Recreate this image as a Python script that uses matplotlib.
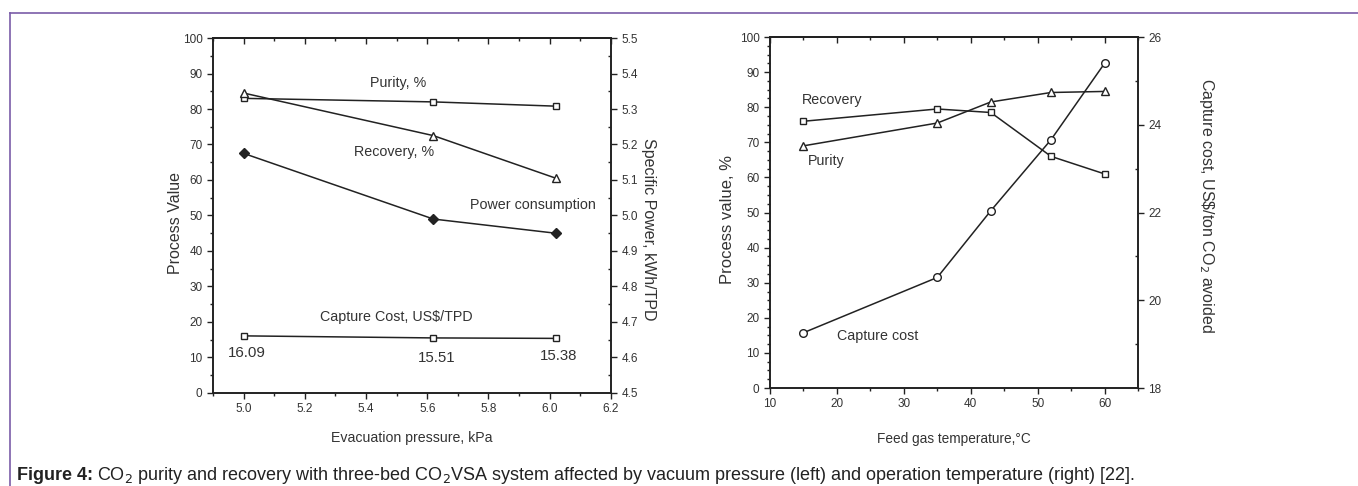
import matplotlib
matplotlib.use("Agg")
import matplotlib.pyplot as plt
from matplotlib.lines import Line2D
from matplotlib.ticker import MultipleLocator, FormatStrFormatter

plt.rcParams["font.family"] = ["Liberation Sans", "DejaVu Sans"]

# ── Data: left panel (evacuation pressure) ───────────────────────────────────
pressure      = [5.0, 5.62, 6.02]
purity_l      = [83.0, 82.0, 80.8]
recovery_l    = [84.5, 72.5, 60.5]
power_kwh     = [5.175, 4.99, 4.95]
capture_l     = [16.09, 15.51, 15.38]
capture_lbls  = ["16.09", "15.51", "15.38"]

# ── Data: right panel (feed gas temperature) ─────────────────────────────────
temperature   = [15, 35, 43, 52, 60]
recovery_r    = [76.0, 79.5, 78.5, 66.0, 61.0]
purity_r      = [69.0, 75.5, 81.5, 84.2, 84.5]
capture_r     = [19.26, 20.52, 22.04, 23.66, 25.40]

INK   = "#222222"
TEXT  = "#333333"
FRAME = "#7a5ca8"
LW = 1.1
MS = 5.5
TICK_FS = 8.5
ANN_FS = 10.3

fig = plt.figure(figsize=(13.58, 4.86), dpi=100)


def style_axis(ax, ax2, xmaj, xmin):
    for a in (ax, ax2):
        for s in a.spines.values():
            s.set_linewidth(1.2)
            s.set_color(INK)
    ax.tick_params(axis="both", which="major", direction="out", length=4,
                   width=1, labelsize=TICK_FS, colors=INK, labelcolor=TEXT)
    ax.tick_params(axis="both", which="minor", direction="out", length=2.5,
                   width=1, colors=INK)
    ax2.tick_params(axis="y", which="major", direction="out", length=4,
                    width=1, labelsize=TICK_FS, colors=INK, labelcolor=TEXT)
    ax2.tick_params(axis="y", which="minor", direction="in", length=2.5,
                    width=1, colors=INK)
    # top ticks point inward, no labels
    top = ax.secondary_xaxis("top")
    top.xaxis.set_major_locator(MultipleLocator(xmaj))
    top.xaxis.set_minor_locator(MultipleLocator(xmin))
    top.tick_params(which="major", direction="in", length=4, width=1,
                    labeltop=False, colors=INK)
    top.tick_params(which="minor", direction="in", length=2.5, width=1,
                    colors=INK)
    top.spines["top"].set_linewidth(1.2)


# ── Left panel ───────────────────────────────────────────────────────────────
axL = fig.add_axes([0.1568, 0.1914, 0.2931, 0.7304])
axL2 = axL.twinx()

axL.plot(pressure, purity_l, color=INK, lw=LW, marker="s", ms=MS - 0.5,
         mfc="white", mec=INK, mew=1, zorder=3)
axL.plot(pressure, recovery_l, color=INK, lw=LW, marker="^", ms=MS,
         mfc="white", mec=INK, mew=1, zorder=3)
axL.plot(pressure, capture_l, color=INK, lw=LW, marker="s", ms=MS - 0.5,
         mfc="white", mec=INK, mew=1, zorder=3)
axL2.plot(pressure, power_kwh, color=INK, lw=LW, marker="D", ms=MS,
          mfc=INK, mec=INK, zorder=3)

axL.set_xlim(4.9, 6.2)
axL.set_ylim(0, 100)
axL2.set_ylim(4.5, 5.5)
axL.xaxis.set_major_locator(MultipleLocator(0.2))
axL.xaxis.set_minor_locator(MultipleLocator(0.1))
axL.yaxis.set_major_locator(MultipleLocator(10))
axL.yaxis.set_minor_locator(MultipleLocator(5))
axL2.yaxis.set_major_locator(MultipleLocator(0.1))
axL2.yaxis.set_minor_locator(MultipleLocator(0.05))
axL.xaxis.set_major_formatter(FormatStrFormatter("%.1f"))
axL2.yaxis.set_major_formatter(FormatStrFormatter("%.1f"))
style_axis(axL, axL2, 0.2, 0.1)

axL.set_xlabel("Evacuation pressure, kPa", fontsize=10.2, color=TEXT)
axL.xaxis.set_label_coords(0.5, -0.107)
axL.set_ylabel("Process Value", fontsize=11.5, color=TEXT)
axL.yaxis.set_label_coords(-0.075, 0.48)
axL2.set_ylabel("Specific Power, kWh/TPD", fontsize=11.5, color=TEXT,
                rotation=270, va="center")
axL2.yaxis.set_label_coords(1.095, 0.46)

axL.text(5.505, 87.3, "Purity, %", fontsize=ANN_FS, color=TEXT, ha="center", va="center")
axL.text(5.49, 67.9, "Recovery, %", fontsize=ANN_FS, color=TEXT, ha="center", va="center")
axL.text(5.946, 53.0, "Power consumption", fontsize=ANN_FS, color=TEXT,
         ha="center", va="center")
axL.text(5.50, 21.4, "Capture Cost, US\\$/TPD", fontsize=ANN_FS, color=TEXT,
         ha="center", va="center")
lbl_y = [11.3, 9.9, 10.4]
for x, y, s in zip(pressure, lbl_y, capture_lbls):
    axL.text(x + 0.01, y, s, fontsize=10.8, color=TEXT, ha="center", va="center")

# ── Right panel ──────────────────────────────────────────────────────────────
axR = fig.add_axes([0.5670, 0.2016, 0.2710, 0.7222])
axR2 = axR.twinx()

axR.plot(temperature, recovery_r, color=INK, lw=LW, marker="s", ms=MS - 0.5,
         mfc="white", mec=INK, mew=1, zorder=3)
axR.plot(temperature, purity_r, color=INK, lw=LW, marker="^", ms=MS,
         mfc="white", mec=INK, mew=1, zorder=3)
axR2.plot(temperature, capture_r, color=INK, lw=LW, marker="o", ms=MS,
          mfc="white", mec=INK, mew=1, zorder=3)

axR.set_xlim(10, 65)
axR.set_ylim(0, 100)
axR2.set_ylim(18, 26)
axR.xaxis.set_major_locator(MultipleLocator(10))
axR.xaxis.set_minor_locator(MultipleLocator(5))
axR.yaxis.set_major_locator(MultipleLocator(10))
axR.yaxis.set_minor_locator(MultipleLocator(2.5))
axR2.yaxis.set_major_locator(MultipleLocator(2))
axR2.yaxis.set_minor_locator(MultipleLocator(1))
style_axis(axR, axR2, 10, 5)

axR.set_xlabel("Feed gas temperature,\u00b0C", fontsize=9.8, color=TEXT)
axR.xaxis.set_label_coords(0.5, -0.125)
axR.set_ylabel("Process value, %", fontsize=12, color=TEXT)
axR.yaxis.set_label_coords(-0.095, 0.48)
axR2.set_ylabel("Capture cost, US\\$/ton CO$_2$ avoided", fontsize=11.5,
                color=TEXT, rotation=270, va="center")
axR2.yaxis.set_label_coords(1.185, 0.52)

axR.text(14.8, 82.0, "Recovery", fontsize=ANN_FS, color=TEXT, ha="left", va="center")
axR.text(15.7, 64.7, "Purity", fontsize=ANN_FS, color=TEXT, ha="left", va="center")
axR.text(20.0, 14.8, "Capture cost", fontsize=ANN_FS, color=TEXT, ha="left", va="center")

# ── Page frame and caption ───────────────────────────────────────────────────
fig.add_artist(Line2D([10 / 1358, 1.0], [1 - 13 / 486, 1 - 13 / 486],
                      transform=fig.transFigure, color=FRAME, lw=1.2))
fig.add_artist(Line2D([10 / 1358, 10 / 1358], [0.0, 1 - 13 / 486],
                      transform=fig.transFigure, color=FRAME, lw=1.2))

cap_y = 1 - 475 / 486
t = fig.text(17 / 1358, cap_y, "Figure 4:", fontsize=13, fontweight="bold",
             color="#222222", ha="left", va="center")
fig.canvas.draw()
bb = t.get_window_extent()
fig.text(bb.x1 / fig.bbox.width + 0.003, cap_y,
         "CO$_2$ purity and recovery with three-bed CO$_2$VSA system affected by "
         "vacuum pressure (left) and operation temperature (right) [22].",
         fontsize=13, color="#222222", ha="left", va="center")

fig.savefig("out.png", dpi=100)
